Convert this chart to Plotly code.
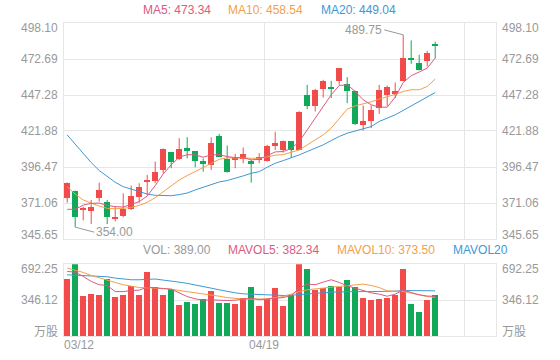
import plotly.graph_objects as go

# ---------------- data ----------------
idx = list(range(47))
date_labels = ["03/12", "04/19"]
date_pos = [0, 25]

open_ = [374.4, 379.5, 366.0, 365.6, 374.8, 371.8, 360.2, 362.1, 366.6, 375.1, 386.1, 386.8, 394.0, 406.9, 401.9, 410.0,
         407.6, 400.8, 397.7, 418.0, 402.2, 401.9, 401.9, 400.5, 401.9, 400.5, 411.4, 408.6, 414.9, 408.5, 447.4, 439.6,
         451.7, 452.6, 457.3, 455.0, 449.8, 426.2, 428.6, 438.0, 447.0, 448.1, 456.9, 473.3, 469.8, 471.0, 483.0]
high = [385.6, 379.8, 368.5, 373.2, 385.4, 373.2, 368.5, 377.9, 383.3, 385.0, 390.9, 400.3, 409.6, 406.9, 416.8, 417.5,
        407.6, 402.6, 417.3, 419.8, 411.6, 405.7, 410.2, 401.5, 406.2, 412.1, 421.3, 415.1, 414.9, 435.8, 454.5, 451.6,
        458.0, 457.3, 466.5, 459.9, 450.3, 439.9, 439.9, 454.5, 453.9, 456.1, 489.75, 485.8, 475.7, 478.5, 484.9]
low = [371.3, 354.0, 358.8, 356.2, 372.0, 356.2, 358.1, 361.0, 366.1, 371.3, 376.7, 385.0, 392.0, 395.6, 401.5, 402.6,
       396.3, 393.2, 394.4, 403.4, 392.5, 395.6, 399.1, 385.4, 399.1, 400.3, 408.5, 406.6, 403.1, 408.5, 437.3, 435.6,
       445.5, 445.1, 454.5, 441.5, 426.2, 422.2, 423.9, 434.0, 439.6, 445.1, 456.9, 469.3, 464.6, 467.5, 473.3]
close = [384.9, 361.4, 367.5, 368.5, 380.3, 361.4, 361.4, 366.8, 376.0, 382.1, 386.8, 393.0, 409.2, 399.8, 409.2, 408.1,
         400.8, 398.4, 413.5, 403.8, 393.2, 402.6, 405.4, 398.6, 403.3, 411.4, 413.7, 415.1, 408.6, 435.6, 439.2, 450.9,
         456.9, 451.9, 466.3, 449.8, 426.7, 429.0, 436.4, 450.5, 452.9, 450.2, 473.3, 472.2, 465.1, 476.9, 482.5]

ma5 = [366.6, 366.6, 369.6, 370.8, 371.0, 369.4, 368.5, 368.2, 370.1, 372.0, 376.0, 383.3, 391.6, 398.0, 403.4, 405.2,
       405.0, 403.4, 405.0, 405.2, 403.8, 403.1, 403.1, 401.5, 401.9, 404.3, 407.1, 407.4, 409.5, 414.4, 422.7, 430.9,
       438.7, 447.4, 454.0, 454.5, 449.8, 443.9, 440.4, 438.7, 438.7, 445.8, 456.1, 460.9, 463.5, 466.3, 473.34]
ma10 = [382.6, 377.4, 373.2, 370.8, 368.9, 367.3, 367.0, 367.3, 368.0, 369.4, 371.5, 374.8, 379.1, 383.3, 387.3, 390.4,
        393.2, 395.8, 399.1, 401.9, 402.9, 403.1, 402.9, 402.6, 402.6, 403.6, 404.8, 405.2, 406.6, 408.5, 412.1, 415.6,
        419.1, 423.9, 430.9, 437.3, 439.6, 440.8, 442.5, 444.4, 445.8, 447.7, 449.8, 451.0, 451.0, 453.3, 458.54]
ma20 = [419.1, 412.6, 406.0, 399.6, 394.0, 389.7, 385.7, 382.6, 380.7, 378.8, 377.4, 376.5, 376.2, 376.2, 377.0, 378.1,
        380.3, 382.1, 384.0, 385.9, 386.9, 388.3, 390.2, 392.0, 393.2, 396.3, 399.1, 401.0, 402.9, 405.0, 407.4, 409.5,
        412.1, 415.1, 418.0, 420.3, 421.7, 423.4, 425.0, 428.6, 430.7, 433.3, 436.4, 439.6, 442.7, 446.3, 449.04]

volume = [542.7, 692.25, 387.7, 400.8, 396.9, 546.5, 375.0, 394.5, 481.7, 394.5, 610.5, 469.0, 396.9, 455.5, 297.5, 329.5,
          310.0, 352.8, 430.2, 314.0, 314.0, 310.0, 362.4, 474.9, 287.8, 358.7, 459.3, 284.9, 397.3, 688.0, 646.4, 440.0,
          459.3, 484.6, 474.9, 536.8, 472.0, 365.3, 345.9, 358.7, 368.3, 397.3, 643.5, 307.2, 229.7, 345.9, 389.0]
mavol5 = [623, 617, 575, 527, 495, 488, 429, 429, 439, 443, 471, 462, 459, 452, 414, 381, 359, 346, 349, 342, 342, 346,
          359, 366, 350, 359, 366, 371, 391, 462, 501, 495, 520, 543, 517, 485, 462, 436, 417, 404, 384, 404, 443, 420,
          398, 386, 382.34]
mavol10 = [656, 637, 614, 585, 560, 540, 517, 495, 478, 468, 466, 462, 456, 452, 439, 429, 417, 407, 398, 384, 371, 362,
           356, 356, 356, 359, 371, 381, 404, 429, 446, 456, 462, 471, 478, 485, 495, 501, 488, 468, 436, 429, 429, 414,
           398, 380, 373.5]
mavol20 = [591, 588, 581, 575, 572, 572, 559, 550, 543, 543, 546, 550, 540, 533, 520, 508, 495, 478, 462, 446, 429, 417,
           407, 404, 401, 394, 388, 391, 394, 401, 407, 414, 420, 423, 426, 429, 429, 429, 429, 429, 429, 433, 439, 439,
           439, 436, 436]

price_ticks = [345.65, 371.06, 396.47, 421.88, 447.28, 472.69, 498.10]
vol_ticks = [0, 346.12, 692.25]
vol_tick_text = ["万股", "346.12", "692.25"]

legend_main = [("MA5: 473.34", "#DD5A7E"), ("MA10: 458.54", "#F4A04A"), ("MA20: 449.04", "#3E98D4")]
legend_vol = [("VOL: 389.00", "#999999"), ("MAVOL5: 382.34", "#DD5A7E"), ("MAVOL10: 373.50", "#F4A04A"),
              ("MAVOL20", "#3E98D4")]

# ---------------- style ----------------
RED = "#F24B4B"
GREEN = "#12A85A"
GRID = "#E6E6E6"
LABEL = "#999999"
FONT = "Liberation Sans, Noto Sans CJK SC, sans-serif"
W, H = 560, 360
ML, MR, MT, MB = 64, 64, 23, 24
PH = H - MT - MB


def py(px):
    return (H - MB - px) / PH


def pxx(px):
    return (px - ML) / (W - ML - MR)


up = [c >= o for o, c in zip(open_, close)]
cols = [RED if u else GREEN for u in up]

fig = go.Figure()

# wicks
for flag, col in ((True, RED), (False, GREEN)):
    xs, ys = [], []
    for i in idx:
        if up[i] == flag:
            xs += [i, i, None]
            ys += [low[i], high[i], None]
    fig.add_trace(go.Scatter(x=xs, y=ys, mode="lines", line=dict(color=col, width=1),
                             hoverinfo="skip", showlegend=False, xaxis="x", yaxis="y"))

# bodies
fig.add_trace(go.Bar(x=idx, y=[max(abs(c - o), 0.7) for o, c in zip(open_, close)],
                     base=[min(o, c) for o, c in zip(open_, close)],
                     width=0.75, marker=dict(color=cols, line=dict(width=0)),
                     showlegend=False, xaxis="x", yaxis="y"))

for arr, col in ((ma20, "#3E98D4"), (ma10, "#F4A04A"), (ma5, "#DD5A7E")):
    fig.add_trace(go.Scatter(x=idx, y=arr, mode="lines", line=dict(color=col, width=1),
                             showlegend=False, xaxis="x", yaxis="y"))

# volume
fig.add_trace(go.Bar(x=idx, y=volume, width=0.75, marker=dict(color=cols, line=dict(width=0)),
                     showlegend=False, xaxis="x2", yaxis="y2"))
for arr, col in ((mavol20, "#3E98D4"), (mavol10, "#F4A04A"), (mavol5, "#DD5A7E")):
    fig.add_trace(go.Scatter(x=idx, y=arr, mode="lines", line=dict(color=col, width=1),
                             showlegend=False, xaxis="x2", yaxis="y2"))

xr = [-0.4, 53.6]
vgrid = [24.6, 49.6]
axis_common = dict(showline=True, mirror=True, linecolor=GRID, linewidth=1, zeroline=False,
                   showticklabels=False, ticks="", fixedrange=True)
fig.update_layout(
    width=W, height=H, margin=dict(l=ML, r=MR, t=MT, b=MB),
    paper_bgcolor="white", plot_bgcolor="white", barmode="overlay", bargap=0,
    font=dict(family=FONT, size=12, color=LABEL),
    xaxis=dict(domain=[0, 1], range=xr, anchor="y", tickvals=vgrid, showgrid=True, gridcolor=GRID, **axis_common),
    xaxis2=dict(domain=[0, 1], range=xr, anchor="y2", matches="x", tickvals=vgrid, showgrid=True, gridcolor=GRID,
                **axis_common),
    yaxis=dict(domain=[py(239), 1], range=[price_ticks[0], price_ticks[-1]], tickvals=price_ticks,
               showgrid=True, gridcolor=GRID, anchor="x", **axis_common),
    yaxis2=dict(domain=[0, py(264.3)], range=[0, vol_ticks[-1]], tickvals=vol_ticks,
                showgrid=True, gridcolor=GRID, anchor="x2", **axis_common),
)

ann = []
n = len(price_ticks)
for k, t in enumerate(price_ticks):
    s = 4.5 if k == 0 else (-5 if k == n - 1 else 0)
    lbl = f"{t:.2f}"
    ann.append(dict(xref="paper", yref="y", x=0, y=t, text=lbl, xanchor="right", yanchor="middle",
                    xshift=-4, yshift=s, showarrow=False))
    ann.append(dict(xref="paper", yref="y", x=1, y=t, text=lbl, xanchor="left", yanchor="middle",
                    xshift=4, yshift=s, showarrow=False))
for k, (t, lbl) in enumerate(zip(vol_ticks, vol_tick_text)):
    s = 4.5 if k == 0 else (-5 if k == len(vol_ticks) - 1 else 0)
    ann.append(dict(xref="paper", yref="y2", x=0, y=t, text=lbl, xanchor="right", yanchor="middle",
                    xshift=-4, yshift=s, showarrow=False))
    ann.append(dict(xref="paper", yref="y2", x=1, y=t, text=lbl, xanchor="left", yanchor="middle",
                    xshift=4, yshift=s, showarrow=False))

for (txt, col), xpx in zip(legend_main, [143, 228, 321]):
    ann.append(dict(xref="paper", yref="paper", x=pxx(xpx) - 0.004, y=py(9.5), text=txt, xanchor="left",
                    yanchor="middle", showarrow=False, font=dict(color=col, size=12)))
for (txt, col), xpx in zip(legend_vol, [143, 228, 337, 453]):
    ann.append(dict(xref="paper", yref="paper", x=pxx(xpx) - 0.004, y=py(250), text=txt, xanchor="left",
                    yanchor="middle", showarrow=False, font=dict(color=col, size=12)))

# date labels
ann.append(dict(xref="paper", yref="paper", x=pxx(64) - 0.004, y=py(345), text=date_labels[0], xanchor="left",
                yanchor="middle", showarrow=False))
ann.append(dict(xref="x", yref="paper", x=vgrid[0], y=py(345), text=date_labels[1], xanchor="center",
                yanchor="middle", showarrow=False))

# max / min markers
imax = high.index(max(high))
imin = low.index(min(low))
ann.append(dict(xref="x", yref="y", x=imax, y=high[imax], text=f"{high[imax]:.2f}", showarrow=True,
                arrowhead=0, arrowwidth=1, arrowcolor="#999999", ax=-19, ay=-5, xanchor="right",
                yanchor="middle", standoff=0, startstandoff=0))
ann.append(dict(xref="x", yref="y", x=imin, y=low[imin], text=f"{low[imin]:.2f}", showarrow=True,
                arrowhead=0, arrowwidth=1, arrowcolor="#999999", ax=19, ay=5, xanchor="left",
                yanchor="middle", standoff=0, startstandoff=0))

fig.update_layout(annotations=ann)
fig.write_html("out.html", config={"displayModeBar": False},
               post_script="document.body.style.margin='0';document.body.style.overflow='hidden';")
